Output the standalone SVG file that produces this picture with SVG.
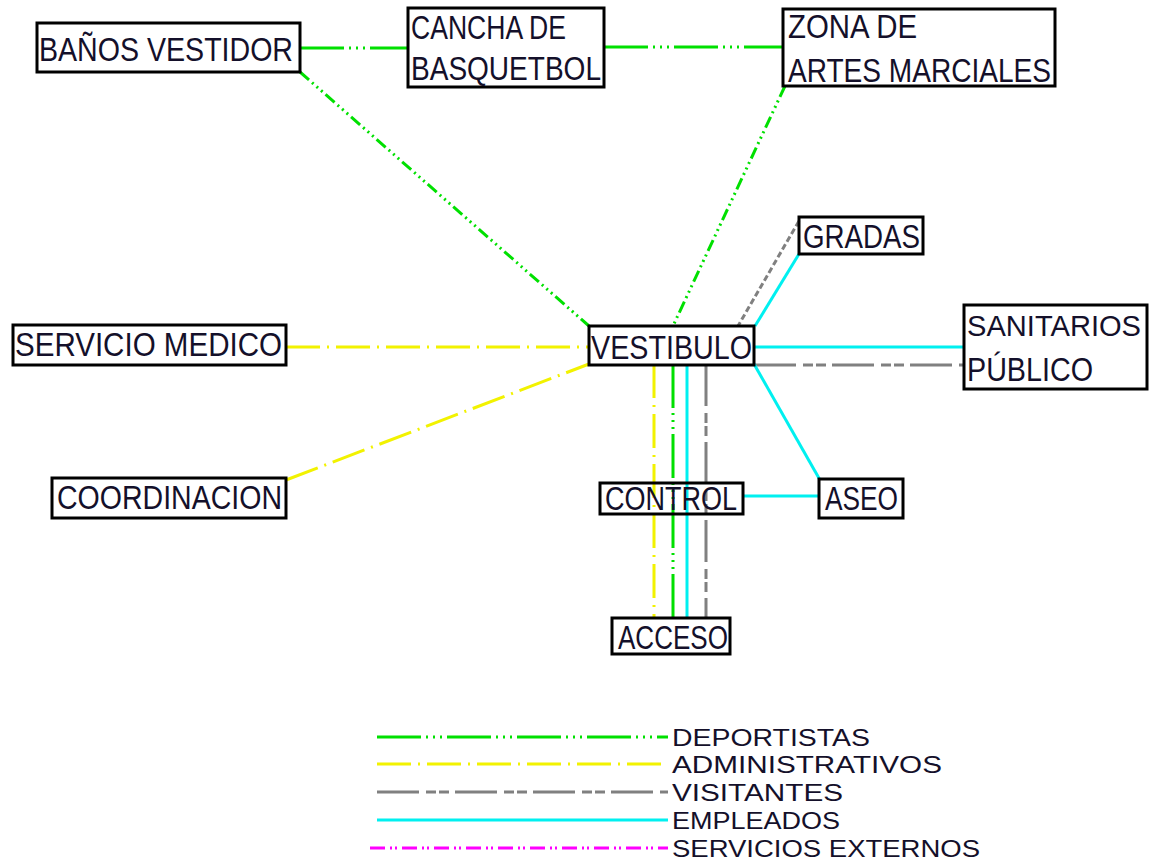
<svg xmlns="http://www.w3.org/2000/svg" width="1151" height="864" viewBox="0 0 1151 864">
<style>
  .box { fill: none; stroke: #000; stroke-width: 3; }
  .t { font-family: "Liberation Sans", Arial, sans-serif; font-size: 33px; fill: #14102a; }
  .lt { font-family: "Liberation Sans", Arial, sans-serif; font-size: 24px; fill: #14102a; }
  .c { fill: none; stroke-width: 3; }
  .dep { stroke: #00e000; stroke-dasharray: 44 5 2 5 2 5 2 5; }
  .depd { stroke: #00e000; stroke-dasharray: 12 4 2 4 2 4 2 4; }
  .adm { stroke: #f2f200; stroke-dasharray: 34 7 2 7; }
  .vis { stroke: #808080; stroke-dasharray: 42 7 10 3 10 6; }
  .visd { stroke: #808080; stroke-dasharray: 6 3; }
  .emp { stroke: #00f0f0; }
  .ext { stroke: #ff00ff; stroke-dasharray: 15 5 2 3 2 5; }
</style>
<rect width="1151" height="864" fill="#fff"/>
<g id="connectors">
  <line class="c dep" x1="300" y1="48" x2="408" y2="48"/>
  <line class="c dep" x1="604" y1="47" x2="783" y2="47"/>
  <line class="c depd" x1="300" y1="72" x2="589" y2="326"/>
  <line class="c depd" x1="785" y1="86" x2="673" y2="326"/>
  <line class="c adm" x1="286" y1="347" x2="589" y2="347"/>
  <line class="c adm" x1="286" y1="480" x2="589" y2="364"/>
  <line class="c visd" x1="799" y1="221" x2="738" y2="326"/>
  <line class="c emp" x1="799" y1="254" x2="755" y2="326"/>
  <line class="c emp" x1="754" y1="347" x2="964" y2="347"/>
  <line class="c vis" x1="754" y1="365" x2="964" y2="365"/>
  <line class="c emp" x1="754" y1="364" x2="820" y2="480"/>
  <line class="c emp" x1="743" y1="496" x2="819" y2="496"/>
  <line class="c adm" x1="654" y1="364" x2="654" y2="618"/>
  <line class="c dep" x1="673" y1="364" x2="673" y2="618"/>
  <line class="c emp" x1="687" y1="364" x2="687" y2="618"/>
  <line class="c vis" x1="706" y1="364" x2="706" y2="618"/>
</g>
<g id="banos">
  <rect class="box" x="37" y="23" width="263" height="49"/>
  <text class="t" x="39" y="61" textLength="254" lengthAdjust="spacingAndGlyphs">BAÑOS VESTIDOR</text>
</g>
<g id="cancha">
  <rect class="box" x="408" y="8" width="196" height="79"/>
  <text class="t" x="411" y="39" textLength="155" lengthAdjust="spacingAndGlyphs">CANCHA DE</text>
  <text class="t" x="411" y="80" textLength="190" lengthAdjust="spacingAndGlyphs">BASQUETBOL</text>
</g>
<g id="zona">
  <rect class="box" x="783" y="9" width="272" height="77"/>
  <text class="t" x="788" y="38" textLength="129" lengthAdjust="spacingAndGlyphs">ZONA DE</text>
  <text class="t" x="788" y="82" textLength="263" lengthAdjust="spacingAndGlyphs">ARTES MARCIALES</text>
</g>
<g id="gradas">
  <rect class="box" x="799" y="217" width="124" height="37"/>
  <text class="t" x="803" y="248" textLength="117" lengthAdjust="spacingAndGlyphs">GRADAS</text>
</g>
<g id="vestibulo">
  <rect class="box" x="589" y="326" width="165" height="39"/>
  <text class="t" x="591" y="359" textLength="161" lengthAdjust="spacingAndGlyphs">VESTIBULO</text>
</g>
<g id="sanitarios">
  <rect class="box" x="964" y="305" width="183" height="84"/>
  <text class="t" x="967" y="336" style="font-size:29px" textLength="174" lengthAdjust="spacingAndGlyphs">SANITARIOS</text>
  <text class="t" x="967" y="381" textLength="126" lengthAdjust="spacingAndGlyphs">PÚBLICO</text>
</g>
<g id="servicio-medico">
  <rect class="box" x="13" y="325" width="273" height="40"/>
  <text class="t" x="15" y="356" textLength="267" lengthAdjust="spacingAndGlyphs">SERVICIO MEDICO</text>
</g>
<g id="coordinacion">
  <rect class="box" x="52" y="478" width="234" height="40"/>
  <text class="t" x="57" y="509" textLength="225" lengthAdjust="spacingAndGlyphs">COORDINACION</text>
</g>
<g id="control">
  <rect class="box" x="600" y="483" width="143" height="31"/>
  <text class="t" x="605" y="510" textLength="132" lengthAdjust="spacingAndGlyphs">CONTROL</text>
</g>
<g id="aseo">
  <rect class="box" x="819" y="479" width="84" height="39"/>
  <text class="t" x="825" y="510" textLength="73" lengthAdjust="spacingAndGlyphs">ASEO</text>
</g>
<g id="acceso">
  <rect class="box" x="612" y="618" width="118" height="36"/>
  <text class="t" x="618" y="649" textLength="110" lengthAdjust="spacingAndGlyphs">ACCESO</text>
</g>
<g id="legend">
  <line class="c dep" x1="377" y1="737" x2="668" y2="737"/>
  <line class="c adm" x1="377" y1="764" x2="668" y2="764"/>
  <line class="c vis" x1="377" y1="792" x2="668" y2="792"/>
  <line class="c emp" x1="377" y1="820" x2="668" y2="820"/>
  <line class="c ext" x1="370" y1="848" x2="668" y2="848"/>
  <text class="lt" x="672" y="746" textLength="198" lengthAdjust="spacingAndGlyphs">DEPORTISTAS</text>
  <text class="lt" x="672" y="773" textLength="270" lengthAdjust="spacingAndGlyphs">ADMINISTRATIVOS</text>
  <text class="lt" x="672" y="801" textLength="171" lengthAdjust="spacingAndGlyphs">VISITANTES</text>
  <text class="lt" x="672" y="829" textLength="168" lengthAdjust="spacingAndGlyphs">EMPLEADOS</text>
  <text class="lt" x="672" y="857" textLength="308" lengthAdjust="spacingAndGlyphs">SERVICIOS EXTERNOS</text>
</g>
</svg>
